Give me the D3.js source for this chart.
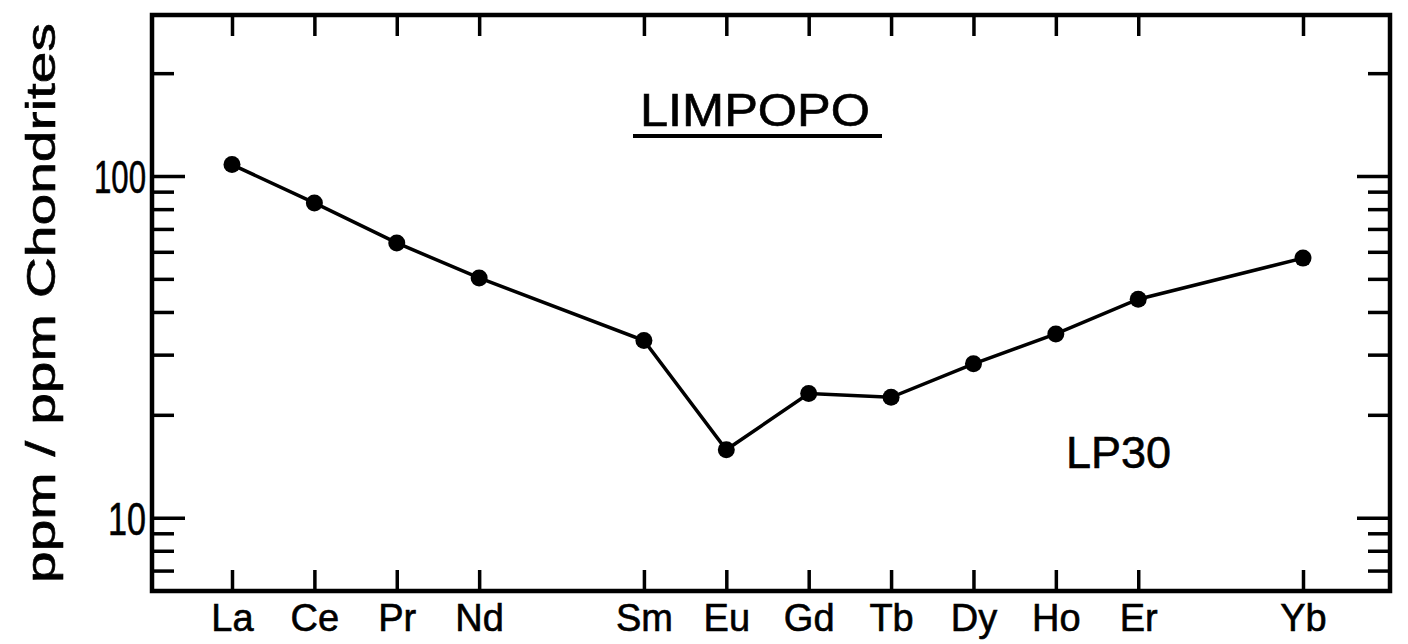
<!DOCTYPE html>
<html>
<head>
<meta charset="UTF-8">
<title>Limpopo REE</title>
<style>
  body { margin: 0; background: #fff; }
  svg text { font-family: "Liberation Sans", Arial, sans-serif; fill: #000; }
</style>
</head>
<body>
<svg width="1408" height="644"></svg>
<script src="https://d3js.org/d3.v7.min.js"></script>
<script>
// REE, chondrite normalised, sample LP30
const elements = ["La", "Ce", "Pr", "Nd", "Sm", "Eu", "Gd", "Tb", "Dy", "Ho", "Er", "Yb"];
const atomicNo = [57, 58, 59, 60, 62, 63, 64, 65, 66, 67, 68, 70];
const lp30 = [108, 83.4, 63.7, 50.3, 33.0, 15.8, 23.1, 22.5, 28.2, 34.5, 43.6, 57.5];

const majorTicks = [10, 100];
const minorTicks = [7, 8, 9, 20, 30, 40, 50, 60, 70, 80, 90, 200];

const svg = d3.select("svg");
const fL = 152, fR = 1390, fT = 15, fB = 591;

const x = d3.scaleLinear().domain([57, 70]).range([232, 1303]);
const y = d3.scaleLog().domain([6.1, 296]).range([fB, fT]);

// frame
svg.append("rect")
  .attr("x", fL).attr("y", fT)
  .attr("width", fR - fL).attr("height", fB - fT)
  .attr("fill", "none").attr("stroke", "#000").attr("stroke-width", 4.5);

function styleAxis(g) {
  g.select(".domain").remove();
  g.selectAll(".tick line").attr("stroke", "#000").attr("stroke-width", 3.5);
}

// x ticks, bottom with labels, top without
const xb = svg.append("g")
  .attr("transform", `translate(0,${fB})`)
  .call(d3.axisBottom(x).tickValues(atomicNo).tickSize(-21).tickPadding(13)
    .tickFormat((d, i) => elements[i]))
  .call(styleAxis);
xb.selectAll("text").attr("font-size", 38)
  .attr("stroke", "#000").attr("stroke-width", 0.6);

svg.append("g")
  .attr("transform", `translate(0,${fT})`)
  .call(d3.axisTop(x).tickValues(atomicNo).tickSize(-21).tickFormat(""))
  .call(styleAxis);

// y ticks, left and right, major longer
const yl = svg.append("g")
  .attr("transform", `translate(${fL},0)`)
  .call(d3.axisLeft(y).tickValues(majorTicks).tickSize(-33).tickPadding(6)
    .tickFormat(d3.format("d")))
  .call(styleAxis);
yl.selectAll("text").attr("font-size", 46).attr("dy", "0.36em")
  .attr("stroke", "#000").attr("stroke-width", 0.6)
  .attr("textLength", d => d === 100 ? 52 : 38).attr("lengthAdjust", "spacingAndGlyphs");

svg.append("g")
  .attr("transform", `translate(${fL},0)`)
  .call(d3.axisLeft(y).tickValues(minorTicks).tickSize(-22).tickFormat(""))
  .call(styleAxis);

svg.append("g")
  .attr("transform", `translate(${fR},0)`)
  .call(d3.axisRight(y).tickValues(majorTicks).tickSize(-33).tickFormat(""))
  .call(styleAxis);

svg.append("g")
  .attr("transform", `translate(${fR},0)`)
  .call(d3.axisRight(y).tickValues(minorTicks).tickSize(-22).tickFormat(""))
  .call(styleAxis);

// y axis title
svg.append("text")
  .attr("transform", "translate(55,303) rotate(-90)")
  .attr("text-anchor", "middle")
  .attr("font-size", 41)
  .attr("stroke", "#000").attr("stroke-width", 0.6)
  .attr("textLength", 560)
  .attr("lengthAdjust", "spacingAndGlyphs")
  .text("ppm / ppm Chondrites");

// pattern line
const pts = atomicNo.map((a, i) => [a, lp30[i]]);
svg.append("path")
  .datum(pts)
  .attr("fill", "none")
  .attr("stroke", "#000")
  .attr("stroke-width", 3.5)
  .attr("d", d3.line().x(d => x(d[0])).y(d => y(d[1])));

svg.append("g").selectAll("circle")
  .data(pts)
  .join("circle")
  .attr("cx", d => x(d[0]))
  .attr("cy", d => y(d[1]))
  .attr("r", 8.5)
  .attr("fill", "#000");

// title, underlined
svg.append("text")
  .attr("x", 755).attr("y", 126)
  .attr("text-anchor", "middle")
  .attr("font-size", 46)
  .attr("stroke", "#000").attr("stroke-width", 0.6)
  .attr("textLength", 230)
  .attr("lengthAdjust", "spacingAndGlyphs")
  .text("LIMPOPO");
svg.append("line")
  .attr("x1", 633).attr("x2", 882)
  .attr("y1", 136).attr("y2", 136)
  .attr("stroke", "#000").attr("stroke-width", 4);

// sample label
svg.append("text")
  .attr("x", 1066).attr("y", 468)
  .attr("font-size", 45)
  .attr("stroke", "#000").attr("stroke-width", 0.6)
  .text("LP30");
</script>
</body>
</html>
